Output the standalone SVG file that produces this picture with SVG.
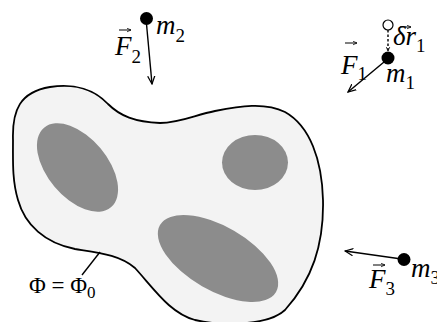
<svg xmlns="http://www.w3.org/2000/svg" width="437" height="322" viewBox="0 0 437 322">
<defs>
<marker id="ah" viewBox="0 0 10 10" refX="9" refY="5" markerWidth="9" markerHeight="9" markerUnits="userSpaceOnUse" orient="auto">
<path d="M0,1 L9,5 L0,9" fill="none" stroke="#000" stroke-width="1.4"/>
</marker>
<marker id="sa" viewBox="0 0 10 10" refX="9" refY="5" markerWidth="5" markerHeight="5" markerUnits="userSpaceOnUse" orient="auto">
<path d="M0,1 L9,5 L0,9" fill="none" stroke="#000" stroke-width="1.5"/>
</marker>
</defs>
<style>
text{font-family:'Liberation Serif','DejaVu Serif',serif;fill:#000}
.t{font-style:italic}
.big{font-size:27px}
.sub{font-size:19px;font-style:normal}
.ln{stroke:#000;stroke-width:1.4;fill:none}
.va{stroke:#000;stroke-width:1;fill:none}
.dot{fill:#000}
.in{fill:#8c8c8c}
</style>
<rect width="437" height="322" fill="#fff"/>
<g id="body">
<path d="M13,140 C12,110 20,92 50,87 C75,83 95,90 108,104 C120,116 135,122 160,123 C180,123 195,115 215,111 C240,106 265,102 285,112 C310,126 322,160 323,200 C324,245 312,280 285,310 C268,326 220,326 195,320 C170,313 155,290 135,268 C120,255 100,253 75,249 C45,243 25,225 18,200 C12,180 13,160 13,140 Z" fill="#f3f3f3" stroke="#000" stroke-width="1.8"/>
<ellipse class="in" cx="77.5" cy="167.5" rx="52" ry="30" transform="rotate(50 77.5 167.5)"/>
<ellipse class="in" cx="255" cy="162.5" rx="33" ry="27.5"/>
<ellipse class="in" cx="218" cy="258.5" rx="67" ry="32" transform="rotate(30 218 258.5)"/>
</g>
<g id="boundary-label">
<line class="ln" x1="100" y1="252" x2="82" y2="275" stroke-width="1.2"/>
<text x="29" y="293" font-size="23">Φ = Φ<tspan font-size="17" dy="5">0</tspan></text>
</g>
<g id="connectors">
<line class="ln" x1="146.5" y1="24" x2="152" y2="84" marker-end="url(#ah)"/>
<line class="ln" x1="384" y1="62" x2="348" y2="92" marker-end="url(#ah)"/>
<line class="ln" x1="398" y1="258.5" x2="345" y2="251" marker-end="url(#ah)"/>
<line class="ln" x1="388" y1="30" x2="388" y2="51" stroke-dasharray="2.5,2" stroke-width="1.2" marker-end="url(#sa)"/>
</g>
<g id="m2">
<circle class="dot" cx="146.5" cy="18.5" r="6.5"/>
<text class="t big" x="156" y="34">m<tspan class="sub" dy="8">2</tspan></text>
<text class="t big" x="115" y="55">F<tspan class="sub" dy="8">2</tspan></text>
<line class="va" x1="119" y1="30" x2="131" y2="30" marker-end="url(#sa)"/>
</g>
<g id="m1">
<circle cx="388" cy="25" r="5" fill="#fff" stroke="#000" stroke-width="1.2"/>
<circle class="dot" cx="388" cy="58" r="6.5"/>
<text class="t big" x="393" y="45">δr<tspan class="sub" dy="7">1</tspan></text>
<line class="va" x1="400" y1="27" x2="411" y2="27" marker-end="url(#sa)"/>
<text class="t big" x="341" y="74">F<tspan class="sub" dy="6">1</tspan></text>
<line class="va" x1="345" y1="43" x2="357" y2="43" marker-end="url(#sa)"/>
<text class="t big" x="386" y="82">m<tspan class="sub" dy="7">1</tspan></text>
</g>
<g id="m3">
<circle class="dot" cx="404" cy="259.5" r="6.5"/>
<text class="t big" x="411" y="277">m<tspan class="sub" dy="7">3</tspan></text>
<text class="t big" x="369" y="288">F<tspan class="sub" dy="7">3</tspan></text>
<line class="va" x1="373" y1="265" x2="385" y2="265" marker-end="url(#sa)"/>
</g>
</svg>
